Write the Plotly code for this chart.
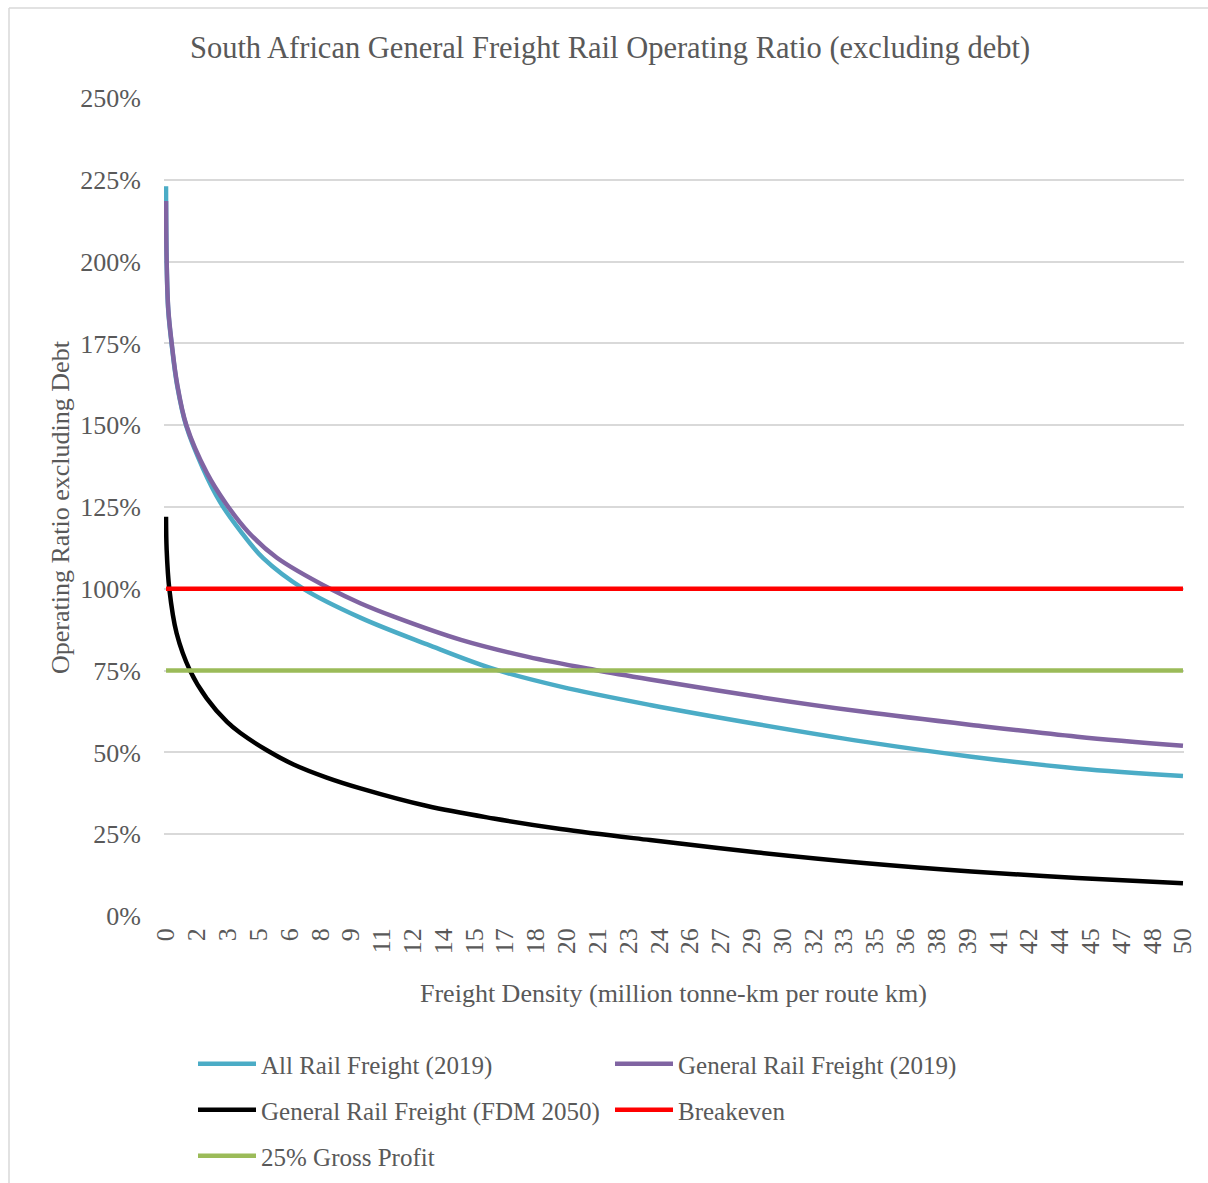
import plotly.graph_objects as go

# Freight density (million tonne-km per route km) and operating ratio excluding debt (%)
all_rail_density = [0, 0.03, 0.11, 0.28, 0.55, 0.98, 1.8, 2.66, 3.64, 4.79, 6.76,
                    9.55, 12.84, 16.1, 19.4, 23.8, 29.1, 34.3, 39.6, 44.8, 50]
all_rail_2019 = [223, 200, 185, 174.5, 162, 150, 137, 126.5, 117.8, 109.3, 100,
                 91.2, 83.0, 75.5, 70.1, 64.5, 58.6, 53.3, 48.7, 45.1, 42.8]

general_density = [0, 0.03, 0.11, 0.28, 0.55, 1.0, 2.0, 2.95, 4.05, 5.45, 8.07,
                   9.55, 11.2, 14.5, 17.8, 21.1, 23.8, 29.1, 34.3, 39.6, 44.8, 50]
general_rail_2019 = [218.5, 200.5, 185.5, 175, 162.5, 150, 135.5, 126, 117.3, 109.5, 100,
                     95.6, 91.5, 84.4, 79.2, 75.2, 72.3, 67, 62.4, 58.4, 54.8, 52]

fdm_density = [0, 0.03, 0.16, 0.52, 1.18, 2.0, 3.0, 3.64, 5.0, 6.27, 7.9, 9.56,
               12.84, 16.1, 19.4, 23.8, 29.1, 34.3, 39.6, 44.8, 50]
general_rail_fdm_2050 = [122, 112, 100, 86.4, 75, 66.5, 59.3, 56, 50.5, 46.3, 42.3,
                         39, 33.6, 29.8, 26.6, 23.2, 19.4, 16.2, 13.6, 11.6, 10]

breakeven_level = 100
gross_profit_level = 75

x_tick_labels = ["0", "2", "3", "5", "6", "8", "9", "11", "12", "14", "15", "17",
                 "18", "20", "21", "23", "24", "26", "27", "29", "30", "32", "33",
                 "35", "36", "38", "39", "41", "42", "44", "45", "47", "48", "50"]
y_tick_values = [0, 25, 50, 75, 100, 125, 150, 175, 200, 225, 250]
y_tick_labels = [f"{v}%" for v in y_tick_values]

FONT = "Liberation Serif"
TEXT = "#595959"
GRID = "#D9D9D9"

W, H = 1208, 1183
L, R, T, B = 164, 24, 98, 267
PW, PH = W - L - R, H - T - B


def px_x(px):
    return (px - L) / PW


def px_y(py):
    return (H - B - py) / PH


x_min, x_max = 0, 50
n_ticks = len(x_tick_labels)
x_tick_positions = [x_min + i * (x_max - x_min) / (n_ticks - 1) for i in range(n_ticks)]

series = [
    ("All Rail Freight (2019)", all_rail_density, all_rail_2019, "#4BACC6", "legend"),
    ("General Rail Freight (2019)", general_density, general_rail_2019, "#8064A2", "legend2"),
    ("General Rail Freight (FDM 2050)", fdm_density, general_rail_fdm_2050, "#000000", "legend3"),
    ("Breakeven", [x_min, x_max], [breakeven_level] * 2, "#FF0000", "legend4"),
    ("25% Gross Profit", [x_min, x_max], [gross_profit_level] * 2, "#9BBB59", "legend5"),
]

fig = go.Figure()
for name, xs, ys, color, leg in series:
    fig.add_trace(go.Scatter(
        x=xs, y=ys, name=name, mode="lines",
        line=dict(color=color, width=4.5, shape="spline", smoothing=1.0),
        legend=leg,
    ))

# Legend slots: two columns, three rows
legend_slots = {
    "legend": (193, 1064),
    "legend2": (610, 1064),
    "legend3": (193, 1110),
    "legend4": (610, 1110),
    "legend5": (193, 1156),
}
legend_layout = {}
for key, (lx, ly) in legend_slots.items():
    legend_layout[key] = dict(
        x=px_x(lx), y=px_y(ly), xanchor="left", yanchor="middle",
        font=dict(family=FONT, size=25, color=TEXT),
        bgcolor="rgba(0,0,0,0)", itemwidth=58,
    )

fig.update_layout(
    width=W, height=H,
    margin=dict(l=L, r=R, t=T, b=B, autoexpand=False),
    paper_bgcolor="white", plot_bgcolor="white",
    showlegend=True,
    title=dict(
        text="South African General Freight Rail Operating Ratio (excluding debt)",
        x=0.505, xref="container", xanchor="center",
        y=1 - 47 / H, yref="container", yanchor="middle",
        font=dict(family=FONT, size=30.5, color=TEXT),
    ),
    xaxis=dict(
        range=[-0.1, 50.05], tickmode="array",
        tickvals=x_tick_positions, ticktext=x_tick_labels, tickangle=-90,
        tickfont=dict(family=FONT, size=26, color=TEXT),
        showgrid=False, zeroline=False, showline=False, ticks="",
        ticklabelstandoff=6,
    ),
    yaxis=dict(
        range=[0, 250], tickmode="array", tickvals=y_tick_values,
        ticktext=y_tick_labels,
        tickfont=dict(family=FONT, size=26, color=TEXT),
        showgrid=True, gridcolor=GRID, gridwidth=1.5,
        zeroline=False, showline=False, ticks="",
        ticklabelstandoff=22,
    ),
    annotations=[
        dict(text="Operating Ratio excluding Debt", textangle=-90,
             x=px_x(60), y=px_y(507), xref="paper", yref="paper",
             showarrow=False, xanchor="center", yanchor="middle",
             font=dict(family=FONT, size=26, color=TEXT)),
        dict(text="Freight Density (million tonne-km per route km)",
             x=px_x(673), y=px_y(993), xref="paper", yref="paper",
             showarrow=False, xanchor="center", yanchor="middle",
             font=dict(family=FONT, size=26, color=TEXT)),
    ],
    shapes=[
        dict(type="line", xref="paper", yref="paper",
             x0=px_x(9), x1=px_x(9), y0=px_y(8), y1=px_y(1200),
             line=dict(color=GRID, width=1.5)),
        dict(type="line", xref="paper", yref="paper",
             x0=px_x(9), x1=px_x(1220), y0=px_y(8), y1=px_y(8),
             line=dict(color=GRID, width=1.5)),
    ],
    **legend_layout,
)

fig.write_html("out.html")
